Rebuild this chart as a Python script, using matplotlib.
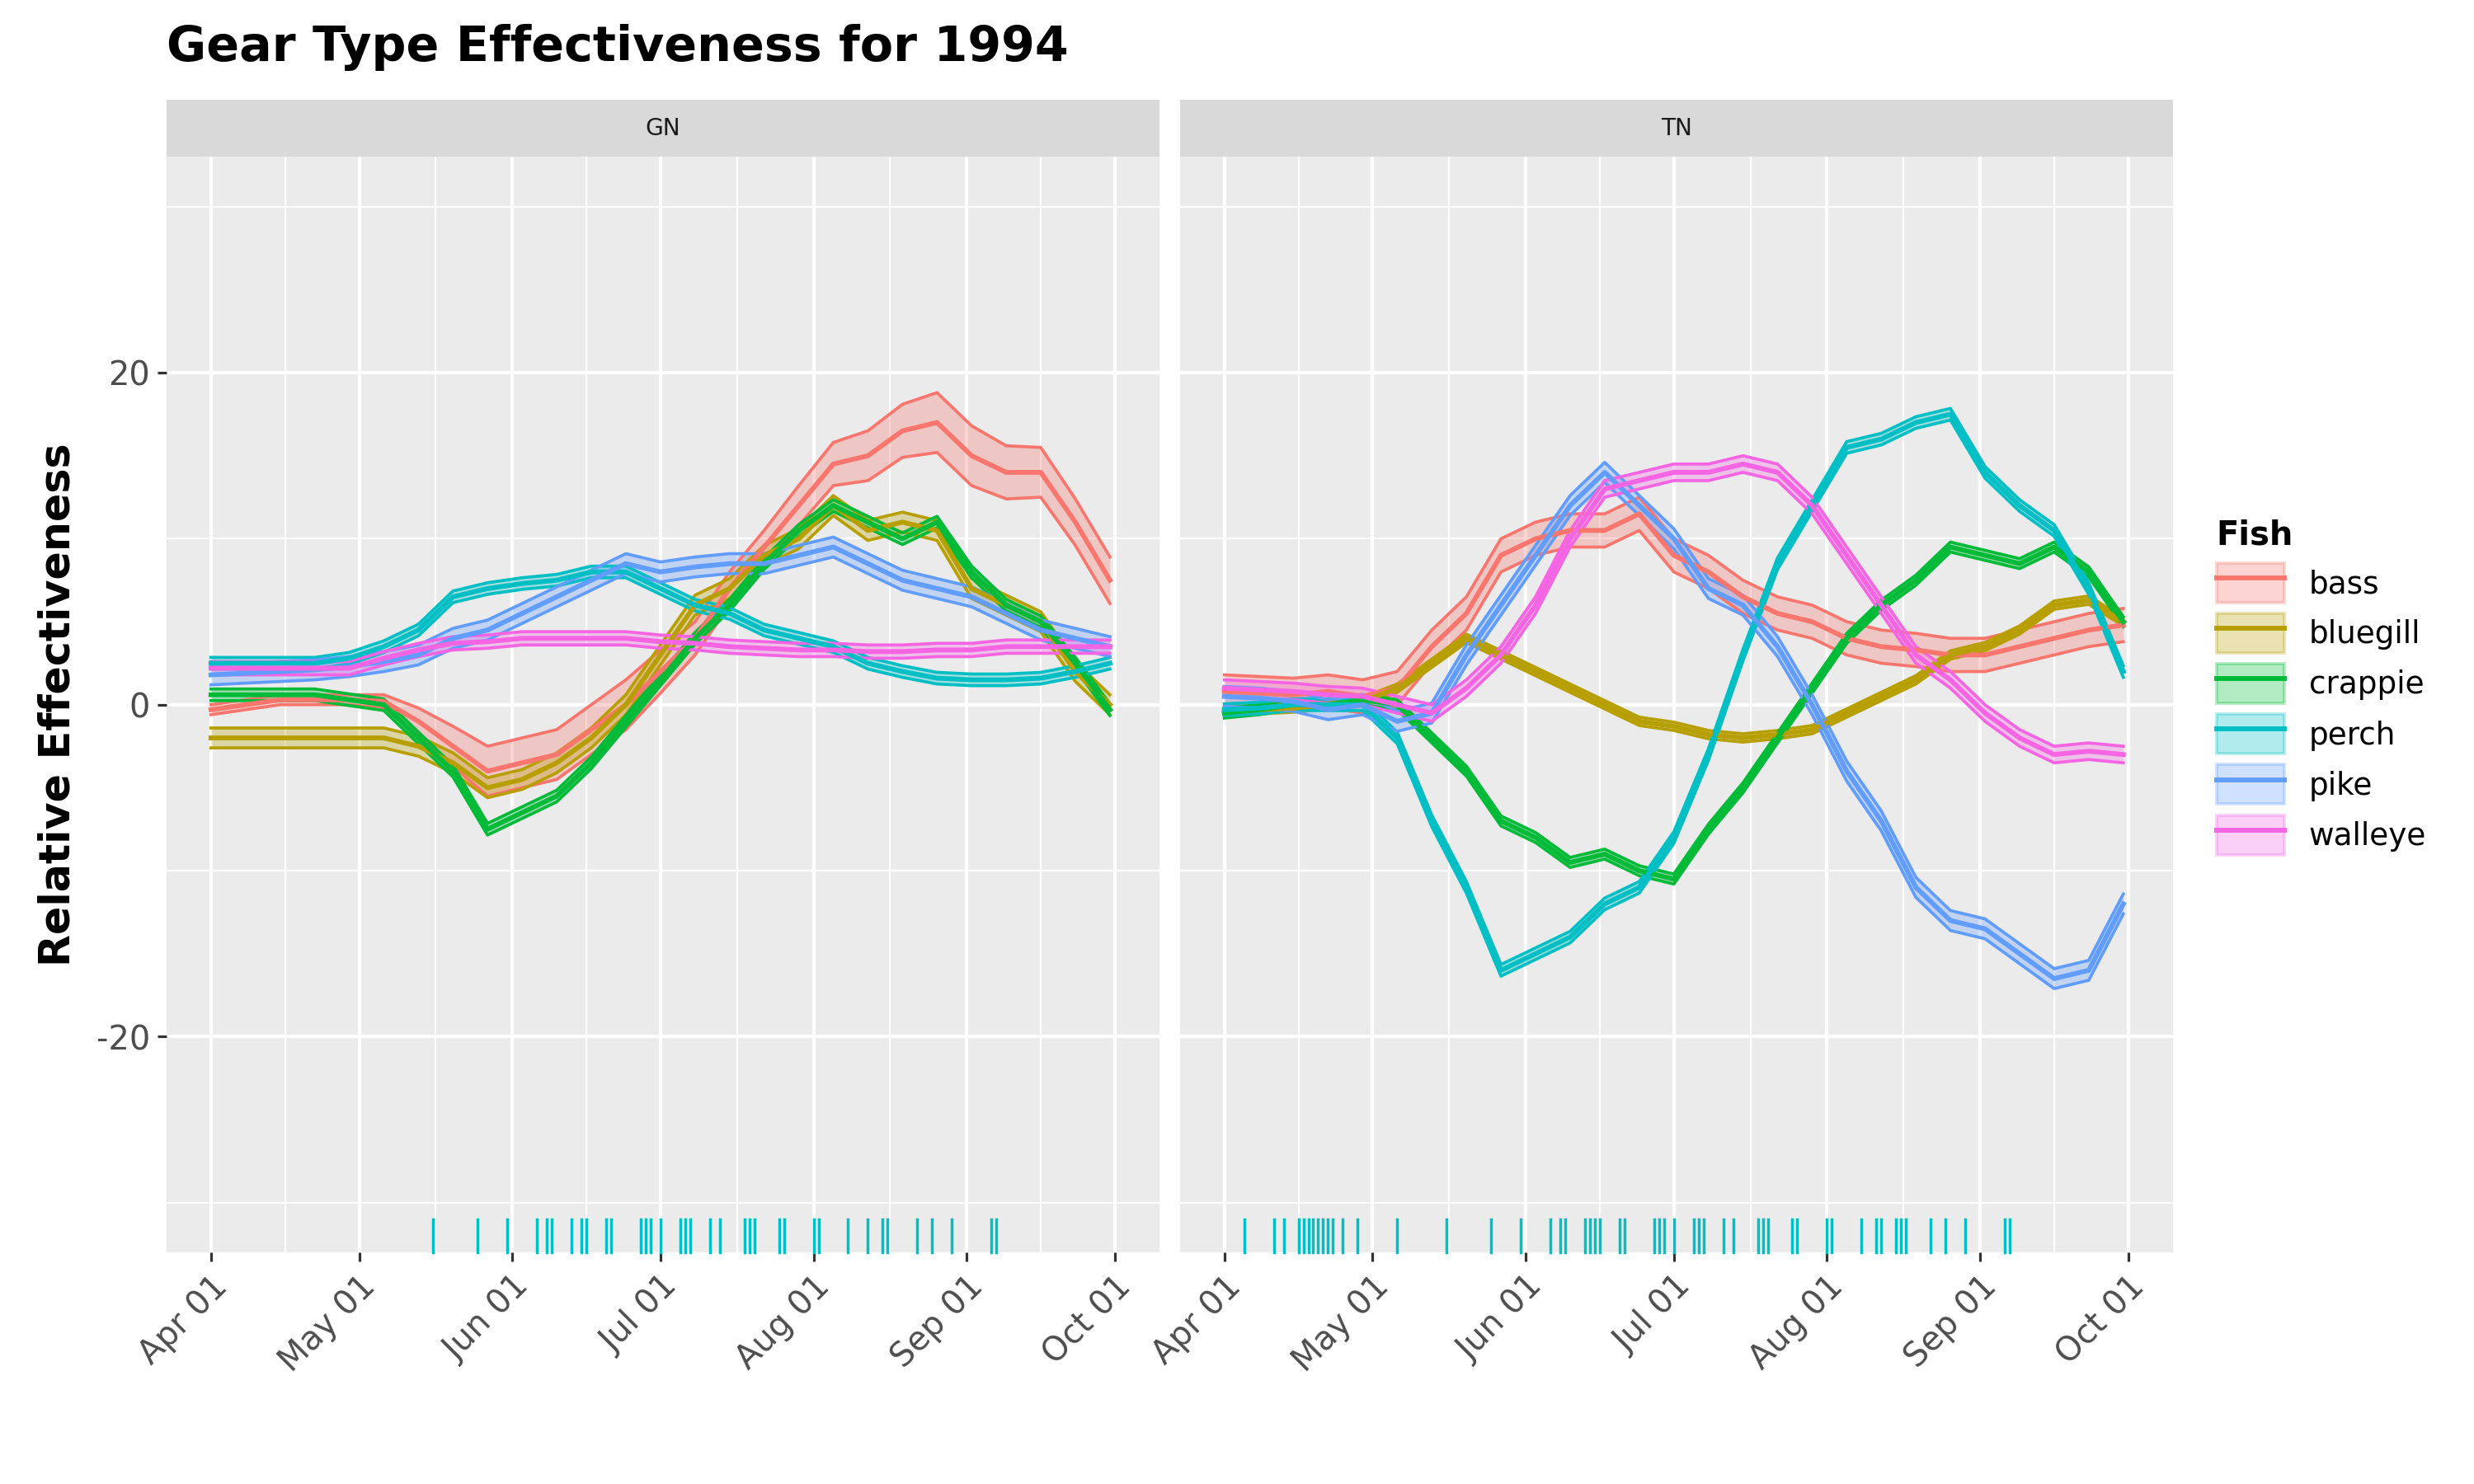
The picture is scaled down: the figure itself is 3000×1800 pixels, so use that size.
import matplotlib
matplotlib.use("Agg")
import matplotlib.pyplot as plt
import numpy as np
from matplotlib.lines import Line2D
from matplotlib.patches import Patch
from matplotlib.legend_handler import HandlerTuple

days = np.arange(0, 183, 7)  # days since Apr 01 1994
fish = ["bass", "bluegill", "crappie", "perch", "pike", "walleye"]
colors = ["#F8766D", "#B79F00", "#00BA38", "#00BFC4", "#619CFF", "#F564E3"]

gn_bass = [-0.3,0,0.3,0.3,0.3,0.2,-1,-2.5,-4,-3.5,-3,-1.5,0,2,4,7,9.5,12,14.5,15,16.5,17,15,14,14,11,7.5]
gn_bluegill = [-2,-2,-2,-2,-2,-2,-2.5,-3.5,-5,-4.5,-3.5,-2,0,3,6,7,9,10,12,10.5,11,10.5,7,6,5,2,0]
gn_crappie = [0.6,0.6,0.6,0.6,0.3,0,-2,-4,-7.5,-6.5,-5.5,-3.5,-1,1.5,4,6,8.5,10.5,12,11,10,11,8,6,5,2.5,-0.3]
gn_perch = [2.5,2.5,2.5,2.5,2.8,3.5,4.5,6.5,7,7.3,7.5,8,8,7,6,5.5,4.5,4,3.5,2.5,2,1.6,1.5,1.5,1.6,2,2.5]
gn_pike = [1.8,1.9,2,2.1,2.3,2.6,3,4,4.5,5.5,6.5,7.5,8.5,8,8.3,8.5,8.5,9,9.5,8.5,7.5,7,6.5,5.5,4.5,4,3.5]
gn_walleye = [2.2,2.2,2.2,2.2,2.2,2.8,3.3,3.7,3.8,4,4,4,4,3.8,3.7,3.5,3.4,3.3,3.3,3.2,3.2,3.3,3.3,3.5,3.5,3.5,3.5]

tn_bass = [0.8,0.7,0.6,0.8,0.5,1,3.5,5.5,9,10,10.5,10.5,11.5,9,8,6.5,5.5,5,4,3.5,3.3,3,3,3.5,4,4.5,4.8]
tn_bluegill = [-0.4,-0.3,-0.2,0,0.2,1,2.5,4,3,2,1,0,-1,-1.3,-1.8,-2,-1.8,-1.5,-0.5,0.5,1.5,3,3.5,4.5,6,6.3,5]
tn_crappie = [-0.5,-0.3,0,0,0.3,0,-2,-4,-7,-8,-9.5,-9,-10,-10.5,-7.5,-5,-2,1,4,6,7.5,9.5,9,8.5,9.5,8,5]
tn_perch = [-0.3,-0.2,0,0,0,-2,-7,-11,-16,-15,-14,-12,-11,-8,-3,3,8.5,12,15.5,16,17,17.5,14,12,10.5,7,2]
tn_pike = [0.5,0.4,0.2,-0.3,0,-1,-0.5,3,6,9,12,14,12,10,7,6,3.5,0,-4,-7,-11,-13,-13.5,-15,-16.5,-16,-12]
tn_walleye = [1,0.9,0.8,0.6,0.5,0,-0.5,1,3,6,10,13,13.5,14,14,14.5,14,12,9,6,3,1.5,-0.5,-2,-3,-2.8,-3]

gn_halfwidth = [0.4, 0.6, 0.35, 0.35, 0.6, 0.4]
tn_halfwidth = [1.0, 0.25, 0.3, 0.35, 0.6, 0.5]
gn_bass_hw = [0.3,0.3,0.3,0.3,0.3,0.4,0.8,1.2,1.5,1.5,1.5,1.5,1.5,1.3,1,1,1,1.2,1.3,1.5,1.6,1.8,1.8,1.6,1.5,1.4,1.4]

gn_rug = [45,54,60,66,68,69,73,75,76,80,81,87,88,89,91,95,96,97,101,103,108,109,110,115,116,122,123,129,133,136,137,143,146,150,158,159]
tn_rug = [4,10,12,15,16,17,18,19,20,21,22,24,27,35,45,54,60,66,68,69,73,74,75,76,80,81,87,88,89,91,95,96,97,101,103,108,109,110,115,116,122,123,129,132,133,136,137,138,143,146,150,158,159]

month_days = [0, 30, 61, 91, 122, 153, 183]
month_labels = ["Apr 01", "May 01", "Jun 01", "Jul 01", "Aug 01", "Sep 01", "Oct 01"]

W, H = 1560, 936
fig = plt.figure(figsize=(15.6, 9.36), dpi=192.31)
fig.patch.set_facecolor("white")

def make_ax(x0, x1):
    return fig.add_axes([x0 / W, 1 - 790 / H, (x1 - x0) / W, (790 - 99) / H])

panels = [
    ("GN", make_ax(105, 731), [gn_bass, gn_bluegill, gn_crappie, gn_perch, gn_pike, gn_walleye], gn_halfwidth, gn_rug, (105, 731)),
    ("TN", make_ax(744, 1370), [tn_bass, tn_bluegill, tn_crappie, tn_perch, tn_pike, tn_walleye], tn_halfwidth, tn_rug, (744, 1370)),
]

for idx, (name, ax, series, hws, rug, (x0, x1)) in enumerate(panels):
    ax.set_facecolor("#EBEBEB")
    ax.set_xlim(-9, 192)
    ax.set_ylim(-33, 33)
    for m in month_days:
        ax.axvline(m, color="white", lw=1.6, zorder=0)
    for a, b in zip(month_days[:-1], month_days[1:]):
        ax.axvline((a + b) / 2, color="white", lw=0.8, zorder=0)
    for yv in [-20, 0, 20]:
        ax.axhline(yv, color="white", lw=1.6, zorder=0)
    for yv in [-30, -10, 10, 30]:
        ax.axhline(yv, color="white", lw=0.8, zorder=0)
    for i, (vals, c) in enumerate(zip(series, colors)):
        v = np.array(vals, dtype=float)
        hw = np.array(gn_bass_hw) if (idx == 0 and i == 0) else hws[i]
        ax.fill_between(days, v - hw, v + hw, color=c, alpha=0.3, lw=0, zorder=2)
        ax.plot(days, v - hw, color=c, lw=1.4, zorder=3)
        ax.plot(days, v + hw, color=c, lw=1.4, zorder=3)
        ax.plot(days, v, color=c, lw=2.2, zorder=4)
    for r in rug:
        ax.plot([r, r], [-33, -31], color="#00BFC4", lw=1.3, zorder=5, clip_on=False)
    for s in ax.spines.values():
        s.set_visible(False)
    ax.set_xticks(month_days)
    ax.set_xticklabels(month_labels, rotation=45, ha="right", rotation_mode="anchor",
                       fontsize=15, color="#4D4D4D")
    ax.tick_params(axis="x", length=4, color="#333333", width=1.2, pad=4)
    if idx == 0:
        ax.set_yticks([-20, 0, 20])
        ax.set_yticklabels(["-20", "0", "20"], fontsize=15, color="#4D4D4D")
        ax.tick_params(axis="y", length=4, color="#333333", width=1.2)
        ax.set_ylabel("Relative Effectiveness", fontsize=19, fontweight="bold", labelpad=8)
    else:
        ax.set_yticks([-20, 0, 20])
        ax.set_yticklabels([])
        ax.tick_params(axis="y", length=0)
    sax = fig.add_axes([x0 / W, 1 - 99 / H, (x1 - x0) / W, 36 / H])
    sax.set_facecolor("#D9D9D9")
    sax.set_xticks([]); sax.set_yticks([])
    for s in sax.spines.values():
        s.set_visible(False)
    sax.text(0.5, 0.5, name, ha="center", va="center", fontsize=10.5, color="#1A1A1A",
             transform=sax.transAxes)

fig.text(105 / W, 1 - 30 / H, "Gear Type Effectiveness for 1994", fontsize=22,
         fontweight="bold", va="center", ha="left")

handles = [(Patch(facecolor=c, alpha=0.3, edgecolor=c, lw=1.4), Line2D([], [], color=c, lw=2.2)) for c in colors]
leg = fig.legend(handles, fish, loc="upper left", bbox_to_anchor=(1380 / W, 1 - 310 / H),
                 title="Fish", frameon=False, fontsize=14, title_fontproperties={"size": 15, "weight": "bold"},
                 handler_map={tuple: HandlerTuple(ndivide=1, pad=0)}, handlelength=2.2,
                 handleheight=1.6, labelspacing=0.35)
leg._legend_box.align = "left"

fig.savefig("out.png", dpi=192.31)
